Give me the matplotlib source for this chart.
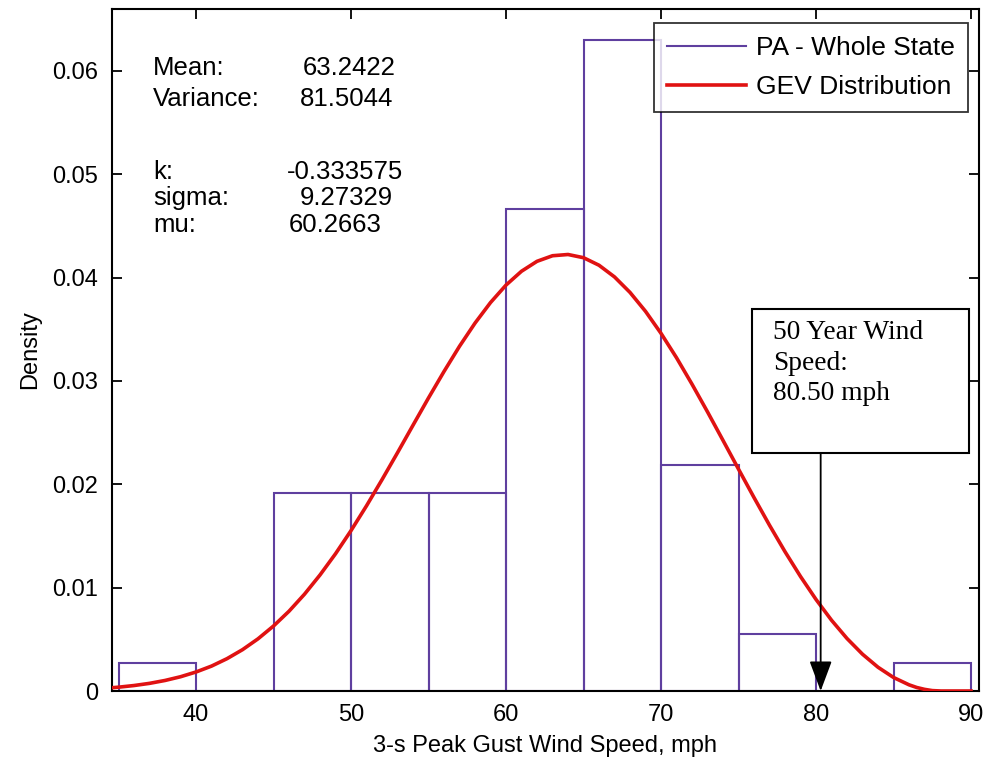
import matplotlib.pyplot as plt
from matplotlib.patches import Rectangle

plt.rcParams['font.family'] = ['Liberation Sans', 'DejaVu Sans']

# histogram (bin width 5 mph), density values
bin_left = [35, 40, 45, 50, 55, 60, 65, 70, 75, 80, 85]
density = [0.00274, 0.0, 0.0192, 0.0192, 0.0192, 0.0466, 0.0630, 0.0219, 0.00548, 0.0, 0.00274]
bin_width = 5

# fitted GEV curve
gev_x = [34.6, 35, 36, 37, 38, 39, 40, 41, 42, 43, 44, 45, 46, 47, 48, 49, 50,
         51, 52, 53, 54, 55, 56, 57, 58, 59, 60, 61, 62, 63, 64, 65, 66, 67, 68,
         69, 70, 71, 72, 73, 74, 75, 76, 77, 78, 79, 80, 81, 82, 83, 84, 85, 86,
         86.5, 87, 87.5, 88.07, 90]
gev_y = [0.00032, 0.00037, 0.00053, 0.00074, 0.00102, 0.00138, 0.00184, 0.00241,
         0.00313, 0.00400, 0.00505, 0.00629, 0.00772, 0.00937, 0.01123, 0.01328,
         0.01552, 0.01792, 0.02045, 0.02306, 0.02572, 0.02836, 0.03092, 0.03336,
         0.03560, 0.03759, 0.03928, 0.04062, 0.04158, 0.04212, 0.04224, 0.04193,
         0.04120, 0.04007, 0.03857, 0.03674, 0.03461, 0.03225, 0.02969, 0.02701,
         0.02425, 0.02147, 0.01872, 0.01604, 0.01348, 0.01108, 0.00886, 0.00685,
         0.00508, 0.00356, 0.00230, 0.00131, 0.00060, 0.00034, 0.00016, 0.00004,
         0.0, 0.0]

stat_labels = ['Mean:', 'Variance:', 'k:', 'sigma:', 'mu:']
stat_values = ['63.2422', '81.5044', '-0.333575', '9.27329', '60.2663']
stat_rows_px = [68, 99, 172, 198, 225]
stat_value_px = [303, 300, 287, 300, 289]

wind_50yr = 80.3
note_text = '50 Year Wind\nSpeed:\n80.50 mph'

purple = '#5f3f9f'
red = '#e01212'

fig = plt.figure(figsize=(9.84, 7.66), dpi=100)
ax = fig.add_axes([0.1135, 0.0979, 0.8815, 0.8904])

for i in range(len(bin_left)):
    ax.add_patch(Rectangle((bin_left[i], 0), bin_width, density[i], fill=False,
                           edgecolor=purple, lw=1.5, zorder=2))
ax.plot([], [], color=purple, lw=1.5, label='PA - Whole State')
ax.plot(gev_x, gev_y, color=red, lw=2.6, label='GEV Distribution', zorder=3)

ax.set_xlim(34.56, 90.52)
ax.set_ylim(0, 0.066)
ax.set_xticks([40, 50, 60, 70, 80, 90])
ax.set_yticks([0, 0.01, 0.02, 0.03, 0.04, 0.05, 0.06])
ax.set_yticklabels(['0', '0.01', '0.02', '0.03', '0.04', '0.05', '0.06'])
ax.tick_params(direction='in', length=7, width=1.3, labelsize=17,
               top=True, right=True)
ax.tick_params(axis='y', pad=10)
ax.tick_params(axis='x', pad=9)
for s in ax.spines.values():
    s.set_linewidth(1.5)

ax.set_xlabel('3-s Peak Gust Wind Speed, mph', fontsize=17, labelpad=7)
ax.set_ylabel('Density', fontsize=17, labelpad=8)

# stats text, placed in pixel positions of the original figure
def px_to_data(px, py):
    return 34.56 + (px - 111.7) / 15.5, (691 - py) / 10333.0

for lab, val, ry, vx in zip(stat_labels, stat_values, stat_rows_px, stat_value_px):
    x0, y0 = px_to_data(153, ry)
    x1, _ = px_to_data(vx, ry)
    ax.text(x0, y0, lab, fontsize=18.5, va='center', ha='left')
    ax.text(x1, y0, val, fontsize=18.5, va='center', ha='left')

leg = ax.legend(loc='upper right', bbox_to_anchor=(0.987, 0.979), fontsize=19,
                frameon=True, fancybox=False, handlelength=3.0, handletextpad=0.35,
                labelspacing=0.55, borderpad=0.5, borderaxespad=0)
leg.get_frame().set_edgecolor('black')
leg.get_frame().set_linewidth(1.3)

# 50 year wind speed call-out
bx0, by0 = px_to_data(752, 453)
bx1, by1 = px_to_data(969, 309)
ax.add_patch(Rectangle((bx0, by0), bx1 - bx0, by1 - by0, facecolor='white',
                       edgecolor='black', lw=1.5, zorder=5))
tx, ty = px_to_data(773, 320)
ax.text(tx, ty, note_text, family=['Liberation Serif', 'DejaVu Serif'], fontsize=19.7,
        va='top', ha='left', zorder=6, linespacing=1.3)
ax.annotate('', xy=(wind_50yr, 0), xytext=(wind_50yr, by0),
            arrowprops=dict(arrowstyle='-|>,head_length=0.75,head_width=0.28',
                            color='black', lw=1.3, mutation_scale=25,
                            shrinkA=0, shrinkB=0), zorder=6)

fig.savefig('out.png', dpi=100)
